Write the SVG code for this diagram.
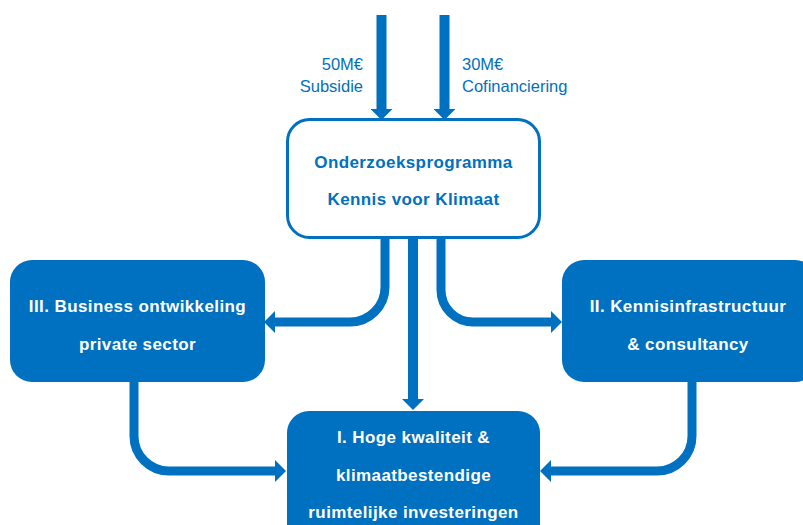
<svg xmlns="http://www.w3.org/2000/svg" width="803" height="525" viewBox="0 0 803 525">
<defs>
<style>
.conn{fill:none;stroke:#0070C0;stroke-width:9;}
.box{fill:#0070C0;}
.obox{fill:#fff;stroke:#0070C0;stroke-width:3;}
.t{font-family:"Liberation Sans",Arial,sans-serif;font-weight:bold;font-size:17px;letter-spacing:0.4px;text-anchor:middle;}
.w{fill:#fff;}
.b{fill:#0070C0;}
.lbl{font-family:"Liberation Sans",Arial,sans-serif;font-size:16.5px;fill:#0070C0;}
</style>
<marker id="ah" markerUnits="userSpaceOnUse" markerWidth="12" markerHeight="22" refX="1" refY="11" orient="auto">
<path d="M0,0 L11,11 L0,22 z" fill="#0070C0"/>
</marker>
</defs>
<rect width="803" height="525" fill="#fff"/>
<g id="connectors">
<path class="conn" style="stroke-width:10" d="M381.5,15 V110" marker-end="url(#ah)"/>
<path class="conn" style="stroke-width:10" d="M444.5,15 V110" marker-end="url(#ah)"/>
<path class="conn" style="stroke-width:10" d="M413,238 V400" marker-end="url(#ah)"/>
<path class="conn" d="M385,238 V287 A35,35 0 0 1 350,322 H274" marker-end="url(#ah)"/>
<path class="conn" d="M441,238 V290 A32,32 0 0 0 473,322 H552" marker-end="url(#ah)"/>
<path class="conn" d="M134,380 V436 A35,35 0 0 0 169,471 H276" marker-end="url(#ah)"/>
<path class="conn" d="M692,380 V436 A35,35 0 0 1 657,471 H550" marker-end="url(#ah)"/>
<text class="lbl" x="363" y="70" text-anchor="end">50M€</text>
<text class="lbl" x="363" y="92" text-anchor="end">Subsidie</text>
<text class="lbl" x="462" y="70">30M€</text>
<text class="lbl" x="462" y="92">Cofinanciering</text>
</g>
<g id="programma">
<rect class="obox" x="287.5" y="119.5" width="252" height="118" rx="22"/>
<text class="t b" x="413.5" y="168">Onderzoeksprogramma</text>
<text class="t b" x="413.5" y="205">Kennis voor Klimaat</text>
</g>
<g id="business">
<rect class="box" x="10" y="260" width="255" height="122" rx="22"/>
<text class="t w" x="137.5" y="312">III. Business ontwikkeling</text>
<text class="t w" x="137.5" y="350">private sector</text>
</g>
<g id="kennis">
<rect class="box" x="562" y="260" width="255" height="122" rx="22"/>
<text class="t w" x="688" y="312">II. Kennisinfrastructuur</text>
<text class="t w" x="688" y="350">&amp; consultancy</text>
</g>
<g id="investeringen">
<rect class="box" x="287" y="411" width="253" height="140" rx="22"/>
<text class="t w" x="413.5" y="443">I. Hoge kwaliteit &amp;</text>
<text class="t w" x="413.5" y="481">klimaatbestendige</text>
<text class="t w" x="413.5" y="518">ruimtelijke investeringen</text>
</g>
</svg>
